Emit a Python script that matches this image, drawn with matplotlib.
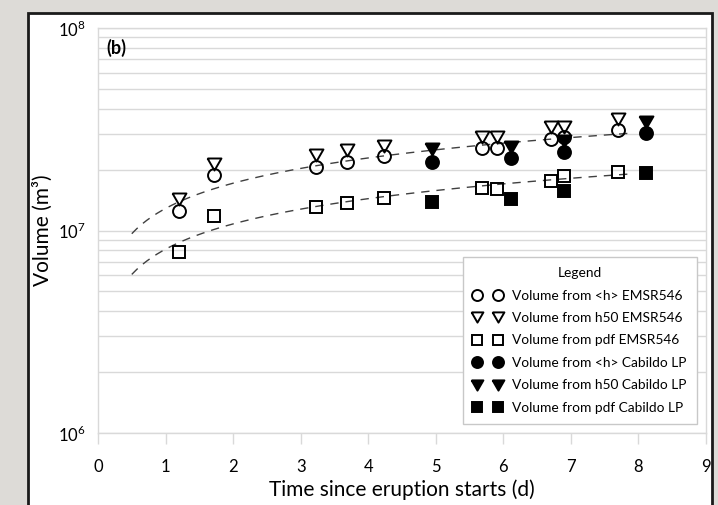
import matplotlib
matplotlib.use("Agg")
import matplotlib.pyplot as plt
import matplotlib.patches as patches
import matplotlib.ticker as ticker
import numpy as np

plt.rcParams['font.family'] = ['Lato', 'DejaVu Sans']
plt.rcParams['mathtext.fontset'] = 'custom'
plt.rcParams['mathtext.rm'] = 'Lato'

# EMSR546 mapping dates (days since eruption start) and volumes
t_emsr = [1.20, 1.71, 3.22, 3.68, 4.24, 5.69, 5.91, 6.70, 6.90, 7.69]
v_h_emsr = [1.25e7, 1.87e7, 2.07e7, 2.19e7, 2.32e7, 2.55e7, 2.55e7, 2.82e7, 2.90e7, 3.13e7]
v_h50_emsr = [1.43e7, 2.12e7, 2.36e7, 2.50e7, 2.62e7, 2.90e7, 2.90e7, 3.26e7, 3.26e7, 3.56e7]
v_pdf_emsr = [7.85e6, 1.18e7, 1.31e7, 1.37e7, 1.45e7, 1.63e7, 1.60e7, 1.76e7, 1.85e7, 1.95e7]

# Cabildo LP
t_cab = [4.95, 6.12, 6.90, 8.11]
v_h_cab = [2.19e7, 2.28e7, 2.45e7, 3.02e7]
v_h50_cab = [2.52e7, 2.59e7, 2.77e7, 3.44e7]
v_pdf_cab = [1.39e7, 1.43e7, 1.56e7, 1.92e7]

x_ticks = list(range(0, 10))

W, H = 718, 505
fig = plt.figure(figsize=(W / 100, H / 100), dpi=100, facecolor='#dddbd7')

# white chart area with dark border
fig.patches.append(patches.Rectangle((28 / W, -0.02), (712 - 28) / W, 1 - 13 / H + 0.02,
                                     transform=fig.transFigure, facecolor='white',
                                     edgecolor='#1a1a1a', linewidth=2, zorder=-1))

ax = fig.add_axes([98 / W, 1 - 433 / H, (706 - 98) / W, (433 - 28) / H])
ax.set_yscale('log')
ax.set_xlim(0, 9)
ax.set_ylim(1e6, 1e8)

grid_c = '#d9d9d9'
ax.yaxis.grid(True, which='both', color=grid_c, linewidth=1)
ax.set_axisbelow(True)
for s in ax.spines.values():
    s.set_color(grid_c)
    s.set_linewidth(1)

ax.set_xticks(x_ticks)
ax.tick_params(axis='x', direction='out', length=8, width=1, color=grid_c,
               labelsize=12, pad=11)
ax.yaxis.set_major_locator(ticker.LogLocator(base=10, numticks=5))
ax.yaxis.set_minor_locator(ticker.LogLocator(base=10, subs=np.arange(2, 10), numticks=20))
ax.yaxis.set_minor_formatter(ticker.NullFormatter())
ax.yaxis.set_major_formatter(ticker.FuncFormatter(lambda v, p: r'$10^{%d}$' % round(np.log10(v))))
ax.tick_params(axis='y', which='both', length=0, labelsize=12, pad=9)

# power-law trend lines fitted in log-log space
t_fit = np.linspace(0.5, 7.9, 100)
for vals in (v_h_emsr, v_pdf_emsr):
    b, a = np.polyfit(np.log10(t_emsr), np.log10(vals), 1)
    ax.plot(t_fit, 10 ** (a + b * np.log10(t_fit)), color='#404040', lw=1,
            dashes=(6, 5), zorder=2)

# equilateral down-pointing triangle
tri = [(-1, 0.866), (1, 0.866), (0, -0.866), (-1, 0.866)]

kw = dict(linestyle='none', markeredgewidth=1.4, color='black', zorder=3)
ax.plot(t_emsr, v_h_emsr, marker='o', markersize=9.3, markerfacecolor='none',
        label='Volume from <h> EMSR546', **kw)
ax.plot(t_emsr, v_h50_emsr, marker=tri, markersize=10, markerfacecolor='none',
        label='Volume from h50 EMSR546', **kw)
ax.plot(t_emsr, v_pdf_emsr, marker='s', markersize=9.2, markerfacecolor='none',
        label='Volume from pdf EMSR546', **kw)
ax.plot(t_cab, v_h_cab, marker='o', markersize=9.3,
        label='Volume from <h> Cabildo LP', **kw)
ax.plot(t_cab, v_h50_cab, marker=tri, markersize=10,
        label='Volume from h50 Cabildo LP', **kw)
ax.plot(t_cab, v_pdf_cab, marker='s', markersize=9.2,
        label='Volume from pdf Cabildo LP', **kw)

leg = ax.legend(title='Legend', loc='lower right', bbox_to_anchor=(0.985, 0.022),
                borderaxespad=0, numpoints=2, markerscale=0.85, fontsize=9.9,
                title_fontsize=9.9, handlelength=2.1, handletextpad=0.75,
                labelspacing=0.76, borderpad=0.75, fancybox=False, framealpha=1,
                edgecolor='#c8c8c8')
leg.get_frame().set_linewidth(1)

ax.text(0.013, 0.951, '(b)', transform=ax.transAxes, fontsize=13,
        fontweight='bold', va='center', ha='left')

ax.set_xlabel('Time since eruption starts (d)', fontsize=15, labelpad=3)
ax.set_ylabel('Volume (m³)', fontsize=15)
ax.yaxis.set_label_coords(-0.074, 0.5)

fig.savefig('out.png', dpi=100, facecolor=fig.get_facecolor())
